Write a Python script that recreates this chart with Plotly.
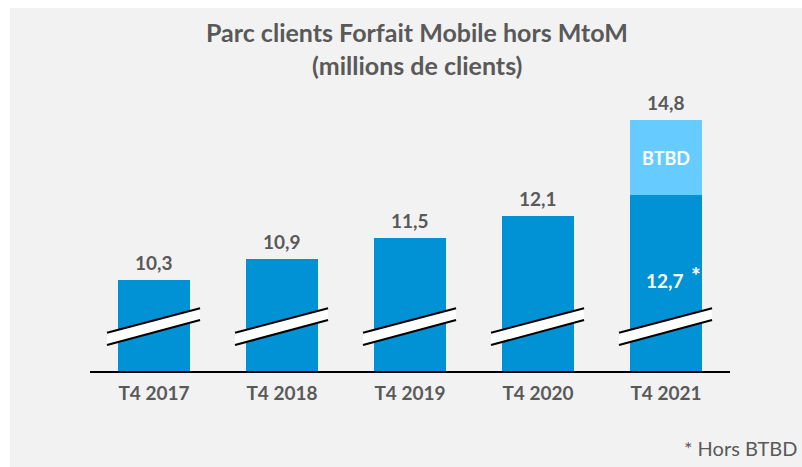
"""Parc clients Forfait Mobile hors MtoM - broken-axis bar chart."""

import plotly.graph_objects as go

categories = ["T4 2017", "T4 2018", "T4 2019", "T4 2020", "T4 2021"]
hors_btbd = [10.3, 10.9, 11.5, 12.1, 12.7]
btbd = [0, 0, 0, 0, 2.1]
totals = [10.3, 10.9, 11.5, 12.1, 14.8]
total_labels = ["10,3", "10,9", "11,5", "12,1", "14,8"]

TEXT = "#595959"
BLUE = "#0092d5"
LIGHT_BLUE = "#66ccff"
FONT = "Lato"

# axis starts above zero (bars are drawn with a break mark)
Y_MIN = 7.74
Y_MAX = 15.655

fig = go.Figure()
fig.add_trace(
    go.Bar(
        x=categories,
        y=hors_btbd,
        marker_color=BLUE,
        marker_line_width=0,
        name="Hors BTBD",
        hoverinfo="skip",
    )
)
fig.add_trace(
    go.Bar(
        x=categories,
        y=btbd,
        marker_color=LIGHT_BLUE,
        marker_line_width=0,
        name="BTBD",
        hoverinfo="skip",
    )
)

# total labels above bars
for cat, tot, lab in zip(categories, totals, total_labels):
    fig.add_annotation(
        x=cat, y=tot, text=f"<b>{lab}</b>", showarrow=False,
        yanchor="bottom", yshift=4,
        font=dict(family=FONT, size=19, color=TEXT),
    )

# labels inside the last bar
last = categories[-1]
fig.add_annotation(
    x=last, y=hors_btbd[-1] + btbd[-1] / 2, text="<b>BTBD</b>", showarrow=False,
    font=dict(family=FONT, size=18, color="white"),
)
fig.add_annotation(
    x=last, y=hors_btbd[-1], text="<b>12,7</b>", showarrow=False,
    yshift=-86, xshift=-1,
    font=dict(family=FONT, size=19, color="white"),
)
fig.add_annotation(
    x=last, y=hors_btbd[-1], text="<b>*</b>", showarrow=False,
    yshift=-80, xshift=30,
    font=dict(family=FONT, size=23, color="white"),
)

# break marks across each bar
for i in range(len(categories)):
    x0, x1 = i - 0.367, i + 0.36
    up0, up1 = 8.819, 9.506
    lo0, lo1 = 8.472, 9.177
    fig.add_shape(
        type="path",
        path=f"M {x0} {lo0} L {x1} {lo1} L {x1} {up1} L {x0} {up0} Z",
        fillcolor="white", line_width=0, layer="above",
    )
    for a, b in ((up0, up1), (lo0, lo1)):
        fig.add_shape(
            type="line", x0=x0, x1=x1, y0=a, y1=b,
            line=dict(color="black", width=2), layer="above",
        )

# gray panel behind the chart
fig.add_shape(
    type="rect", xref="paper", yref="paper",
    x0=-0.125, x1=1.2, y0=-0.4, y1=1.2918,
    fillcolor="#f2f2f2", line_width=0, layer="below",
)

fig.add_annotation(
    xref="paper", yref="paper", x=0.511, y=1.206,
    text="<b>Parc clients Forfait Mobile hors MtoM</b>", showarrow=False,
    yanchor="middle", font=dict(family=FONT, size=25, color=TEXT),
)
fig.add_annotation(
    xref="paper", yref="paper", x=0.511, y=1.09,
    text="<b>(millions de clients)</b>", showarrow=False,
    yanchor="middle", font=dict(family=FONT, size=25, color=TEXT),
)
fig.add_annotation(
    xref="paper", yref="paper", x=1.11, y=-0.274,
    text="* Hors BTBD", showarrow=False, xanchor="right",
    yanchor="middle", font=dict(family=FONT, size=20, color=TEXT),
)

fig.update_layout(
    width=802,
    height=467,
    barmode="stack",
    bargap=0.445,
    showlegend=False,
    paper_bgcolor="white",
    plot_bgcolor="rgba(0,0,0,0)",
    margin=dict(l=90, r=72, t=90, b=96),
    font=dict(family=FONT, color=TEXT),
)
fig.update_xaxes(
    showline=True, linecolor="black", linewidth=2,
    showgrid=False, ticks="", ticklabelstandoff=4,
    tickfont=dict(family=FONT, size=19, color=TEXT),
    tickprefix="<b>", ticksuffix="</b>",
)
fig.update_yaxes(
    range=[Y_MIN, Y_MAX], visible=False, showgrid=False, zeroline=False,
)

# drop the default body margin so the figure fills the window exactly
fig.write_html(
    "out.html",
    config={"displayModeBar": False},
    post_script="document.body.style.margin='0';document.body.style.overflow='hidden';",
)
